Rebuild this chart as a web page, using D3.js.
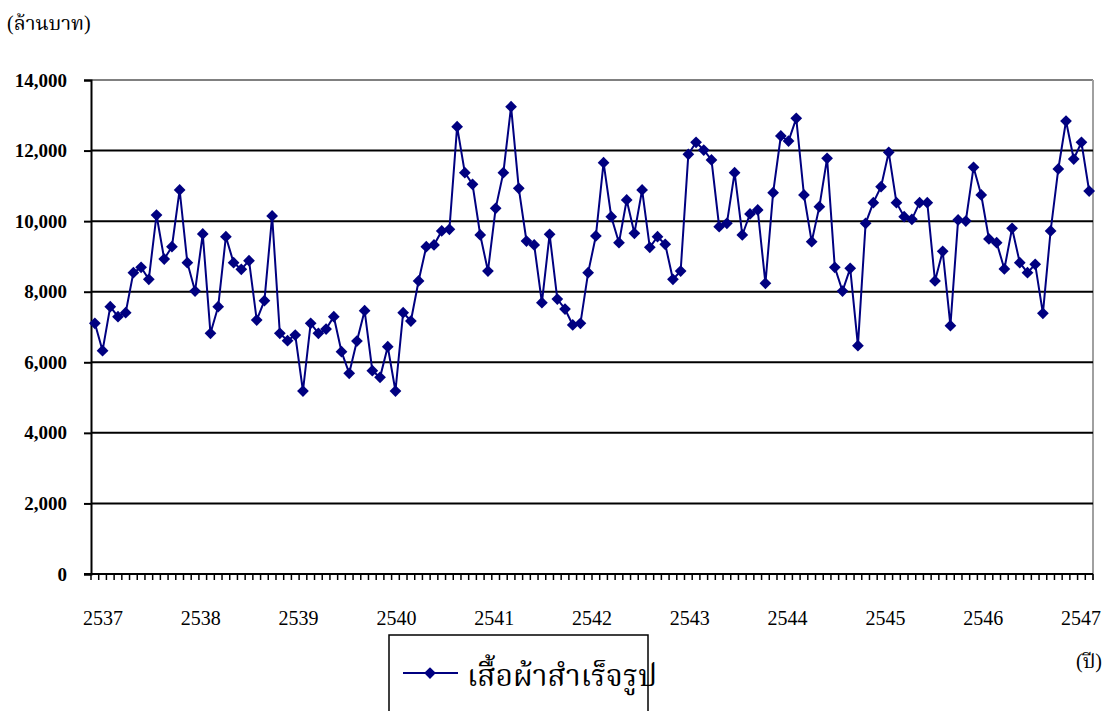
<!doctype html>
<html>
<head>
<meta charset="utf-8"/>
<script src="https://cdn.jsdelivr.net/npm/d3@7"></script>
<style>
  body { margin:0; background:#fff; }
  text { font-family:"Liberation Serif","Times New Roman",serif; }
  .thai { font-family:"Liberation Serif","Noto Serif Thai","Noto Sans Thai","DejaVu Sans",serif; }
</style>
</head>
<body>
<script>
// monthly values, Jan 2537 .. Oct 2547 (million baht)
var values = [
  7105, 6329, 7576, 7293, 7406, 8540, 8691, 8351, 10174, 8927, 9276, 10883,
  8823, 8020, 9636, 6821, 7576, 9559, 8823, 8635, 8880, 7198, 7746, 10146,
  6821, 6613, 6773, 5186, 7105, 6821, 6943, 7293, 6301, 5688, 6603, 7463,
  5763, 5574, 6442, 5186, 7406, 7170, 8304, 9276, 9324, 9721, 9769, 12678,
  11374, 11044, 9608, 8587, 10363, 11374, 13243, 10931, 9437, 9324, 7689, 9627,
  7793, 7510, 7057, 7105, 8540, 9579, 11657, 10127, 9390, 10600, 9655, 10883,
  9258, 9559, 9343, 8351, 8587, 11894, 12234, 12016, 11733, 9843, 9938, 11374,
  9608, 10203, 10316, 8238, 10806, 12413, 12271, 12914, 10741, 9418, 10410, 11781,
  8692, 8020, 8663, 6471, 9938, 10523, 10977, 11951, 10523, 10127, 10052, 10523,
  10523, 8304, 9144, 7037, 10033, 10004, 11526, 10741, 9494, 9390, 8644, 9797,
  8823, 8540, 8776, 7387, 9721, 11478, 12838, 11761, 12234, 10854
];
var years = ["2537","2538","2539","2540","2541","2542","2543","2544","2545","2546","2547"];
var yTicks = [0, 2000, 4000, 6000, 8000, 10000, 12000, 14000];
var seriesName = "เสื้อผ้าสำเร็จรูป";
var unitLabel = "(ล้านบาท)";
var yearLabel = "(ปี)";

var width = 1109, height = 711;
var pLeft = 91, pRight = 1093, pTop = 80, pBottom = 574;
var navy = "#000080";

var svg = d3.select("body").append("svg").attr("width", width).attr("height", height);

var x = d3.scaleBand().domain(d3.range(values.length)).range([pLeft, pRight]);
var y = d3.scaleLinear().domain([0, 14000]).range([pBottom, pTop]);
var yearX = d3.scalePoint().domain(years).range([pLeft + 12, pRight - 12]);

// frame on top and right
svg.append("line").attr("x1", pLeft).attr("x2", pRight).attr("y1", y(14000)).attr("y2", y(14000))
  .attr("stroke", "#808080").attr("stroke-width", 2);
svg.append("line").attr("x1", pRight).attr("x2", pRight).attr("y1", pTop).attr("y2", pBottom + 6)
  .attr("stroke", "#a0a0a0").attr("stroke-width", 2);

// gridlines
svg.selectAll(".grid").data(yTicks.filter(function(d){ return d > 0 && d < 14000; }))
  .enter().append("line")
  .attr("x1", pLeft).attr("x2", pRight)
  .attr("y1", function(d){ return y(d); }).attr("y2", function(d){ return y(d); })
  .attr("stroke", "#000").attr("stroke-width", 2);

// y axis
var yAxis = svg.append("g").attr("transform", "translate(" + pLeft + ",0)")
  .call(d3.axisLeft(y).tickValues(yTicks).tickSize(7).tickPadding(17)
    .tickFormat(d3.format(",")));
yAxis.select(".domain").attr("stroke", "#000").attr("stroke-width", 2);
yAxis.selectAll(".tick line").attr("stroke", "#000").attr("stroke-width", 2);
yAxis.selectAll(".tick text").attr("font-family", "Liberation Serif, serif")
  .attr("font-size", 19).attr("font-weight", "bold").attr("fill", "#000");

// x axis with a tick between every month
var bounds = d3.range(values.length + 1);
svg.append("line").attr("x1", pLeft - 7).attr("x2", pRight).attr("y1", pBottom).attr("y2", pBottom)
  .attr("stroke", "#000").attr("stroke-width", 2);
svg.selectAll(".xt").data(bounds).enter().append("line")
  .attr("x1", function(i){ return i < values.length ? x(i) : pRight; })
  .attr("x2", function(i){ return i < values.length ? x(i) : pRight; })
  .attr("y1", pBottom).attr("y2", pBottom + 6)
  .attr("stroke", "#000").attr("stroke-width", 1.5);

svg.selectAll(".yr").data(years).enter().append("text")
  .attr("x", function(d){ return yearX(d); }).attr("y", 625)
  .attr("text-anchor", "middle").attr("font-size", 20).text(function(d){ return d; });

// series
var cx = function(d, i){ return x(i) + x.bandwidth() / 2; };
svg.append("path").datum(values)
  .attr("fill", "none").attr("stroke", navy).attr("stroke-width", 2)
  .attr("d", d3.line().x(cx).y(function(d){ return y(d); }));

var diamond = d3.symbol().type(d3.symbolDiamond2).size(88);
svg.selectAll(".pt").data(values).enter().append("path")
  .attr("transform", function(d, i){ return "translate(" + cx(d, i) + "," + y(d) + ")"; })
  .attr("d", diamond).attr("fill", navy);

// labels
svg.append("text").attr("class", "thai").attr("x", 7).attr("y", 30)
  .attr("font-size", 20).text(unitLabel);
svg.append("text").attr("class", "thai").attr("x", 1102).attr("y", 668)
  .attr("text-anchor", "end").attr("font-size", 20).text(yearLabel);

// legend
var lg = svg.append("g");
lg.append("rect").attr("x", 389).attr("y", 635).attr("width", 259).attr("height", 90)
  .attr("fill", "#fff").attr("stroke", "#000").attr("stroke-width", 1.5);
lg.append("line").attr("x1", 403).attr("x2", 458).attr("y1", 673).attr("y2", 673)
  .attr("stroke", navy).attr("stroke-width", 2);
lg.append("path").attr("transform", "translate(430,673)").attr("d", diamond).attr("fill", navy);
lg.append("text").attr("class", "thai").attr("x", 467).attr("y", 686)
  .attr("font-size", 30).text(seriesName);
</script>
</body>
</html>
